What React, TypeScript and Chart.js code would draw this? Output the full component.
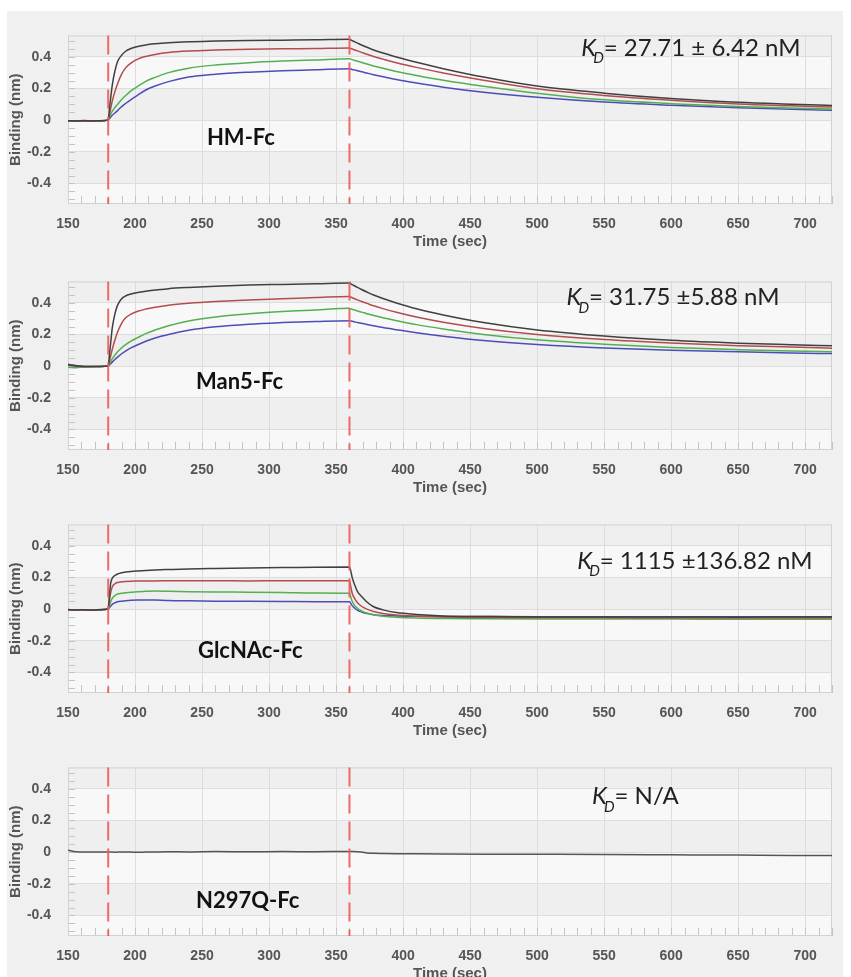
import { useEffect, useRef } from "react";
import { Chart, registerables } from "chart.js";

Chart.register(...registerables);

// Sampling times (s): baseline, association from 180 s, dissociation from 360 s
const TIME = [
  150, 156, 162, 168, 174, 180,
  181, 182, 183, 185, 187, 190, 193, 197, 202, 208, 215, 225, 240, 260, 285, 310, 335, 360,
  361, 362, 364, 366, 369, 373, 378, 385, 395, 410, 430, 460, 500, 550, 600, 650, 690, 720,
];

const X_TICKS = [150, 200, 250, 300, 350, 400, 450, 500, 550, 600, 650, 700];
const Y_TICKS = [-0.4, -0.2, 0, 0.2, 0.4];
const Y_TICK_LABELS = ["-0.4", "-0.2", "0", "0.2", "0.4"];
const PHASE_STARTS = [180, 360];

// HM-Fc sensorgrams (nm)
const HM_BLACK = [
  -0.004, -0.006, -0.003, -0.005, -0.004, 0.0,
  0.08, 0.15, 0.22, 0.31, 0.37, 0.41, 0.435, 0.452, 0.465, 0.475, 0.482, 0.489, 0.495, 0.499, 0.503, 0.505, 0.507, 0.51,
  0.506, 0.502, 0.494, 0.486, 0.474, 0.46, 0.443, 0.424, 0.398, 0.365, 0.325, 0.272, 0.215, 0.17, 0.136, 0.112, 0.1, 0.092,
];
const HM_RED = [
  -0.005, -0.004, -0.006, -0.004, -0.005, 0.0,
  0.04, 0.08, 0.12, 0.18, 0.23, 0.29, 0.33, 0.36, 0.385, 0.402, 0.415, 0.427, 0.436, 0.442, 0.447, 0.45, 0.452, 0.455,
  0.452, 0.449, 0.443, 0.437, 0.428, 0.416, 0.402, 0.385, 0.362, 0.333, 0.298, 0.252, 0.198, 0.156, 0.126, 0.102, 0.09, 0.082,
];
const HM_GREEN = [
  -0.005, -0.005, -0.004, -0.006, -0.004, 0.0,
  0.02, 0.04, 0.055, 0.08, 0.1, 0.13, 0.155, 0.185, 0.213, 0.245, 0.27, 0.3, 0.328, 0.348, 0.363, 0.373, 0.38, 0.387,
  0.385, 0.382, 0.377, 0.372, 0.364, 0.354, 0.342, 0.327, 0.307, 0.282, 0.252, 0.214, 0.17, 0.128, 0.104, 0.086, 0.076, 0.07,
];
const HM_BLUE = [
  -0.004, -0.005, -0.005, -0.004, -0.005, 0.0,
  0.01, 0.02, 0.03, 0.045, 0.06, 0.085, 0.105, 0.13, 0.158, 0.19, 0.215, 0.243, 0.272, 0.29, 0.303, 0.312, 0.318, 0.325,
  0.323, 0.32, 0.316, 0.312, 0.305, 0.297, 0.287, 0.274, 0.256, 0.234, 0.208, 0.176, 0.144, 0.114, 0.094, 0.078, 0.068, 0.062,
];

// Man5-Fc sensorgrams (nm)
const M5_BLACK = [
  0.008, 0.0, -0.003, -0.002, -0.003, 0.0,
  0.08, 0.16, 0.24, 0.33, 0.385, 0.425, 0.443, 0.455, 0.465, 0.473, 0.48, 0.489, 0.497, 0.505, 0.512, 0.516, 0.52, 0.525,
  0.52, 0.515, 0.506, 0.497, 0.484, 0.468, 0.449, 0.427, 0.399, 0.362, 0.323, 0.275, 0.228, 0.19, 0.163, 0.145, 0.135, 0.128,
];
const M5_RED = [
  0.008, 0.002, -0.003, -0.002, -0.003, 0.0,
  0.035, 0.07, 0.105, 0.165, 0.215, 0.27, 0.305, 0.328, 0.346, 0.36, 0.372, 0.385, 0.397, 0.408, 0.418, 0.426, 0.433, 0.44,
  0.436, 0.432, 0.425, 0.418, 0.408, 0.396, 0.381, 0.363, 0.34, 0.31, 0.277, 0.238, 0.2, 0.168, 0.146, 0.129, 0.12, 0.113,
];
const M5_GREEN = [
  -0.008, -0.01, -0.006, -0.004, -0.003, 0.0,
  0.015, 0.03, 0.045, 0.07, 0.09, 0.115, 0.135, 0.158, 0.18, 0.205, 0.228, 0.255, 0.285, 0.31, 0.33, 0.345, 0.355, 0.365,
  0.362, 0.359, 0.354, 0.348, 0.341, 0.331, 0.32, 0.305, 0.287, 0.262, 0.235, 0.2, 0.166, 0.138, 0.118, 0.104, 0.095, 0.09,
];
const M5_BLUE = [
  0.012, 0.004, -0.002, -0.003, -0.002, 0.0,
  0.008, 0.016, 0.025, 0.042, 0.057, 0.078, 0.095, 0.115, 0.135, 0.157, 0.178, 0.2, 0.226, 0.248, 0.265, 0.275, 0.282, 0.287,
  0.285, 0.283, 0.279, 0.275, 0.27, 0.263, 0.255, 0.244, 0.23, 0.21, 0.188, 0.161, 0.136, 0.114, 0.1, 0.09, 0.083, 0.079,
];

// GlcNAc-Fc sensorgrams (nm)
const GN_BLACK = [
  -0.003, -0.005, -0.004, -0.006, -0.004, 0.0,
  0.1, 0.17, 0.195, 0.212, 0.222, 0.23, 0.234, 0.238, 0.241, 0.244, 0.247, 0.25, 0.254, 0.257, 0.26, 0.262, 0.265, 0.266,
  0.24, 0.2, 0.15, 0.11, 0.08, 0.045, 0.015, -0.005, -0.022, -0.034, -0.043, -0.047, -0.05, -0.05, -0.05, -0.051, -0.05, -0.05,
];
const GN_RED = [
  -0.004, -0.004, -0.005, -0.005, -0.003, 0.0,
  0.06, 0.11, 0.14, 0.16, 0.168, 0.172, 0.174, 0.176, 0.177, 0.178, 0.178, 0.179, 0.179, 0.179, 0.178, 0.179, 0.179, 0.179,
  0.14, 0.1, 0.065, 0.04, 0.018, 0.0, -0.015, -0.028, -0.038, -0.045, -0.05, -0.053, -0.055, -0.055, -0.056, -0.056, -0.056, -0.056,
];
const GN_GREEN = [
  -0.005, -0.004, -0.006, -0.004, -0.005, 0.0,
  0.025, 0.05, 0.068, 0.085, 0.095, 0.1, 0.104, 0.106, 0.11, 0.112, 0.114, 0.112, 0.11, 0.108, 0.107, 0.105, 0.102, 0.1,
  0.075, 0.05, 0.022, 0.005, -0.012, -0.025, -0.036, -0.045, -0.052, -0.057, -0.06, -0.061, -0.062, -0.063, -0.063, -0.064, -0.064, -0.064,
];
const GN_BLUE = [
  -0.004, -0.005, -0.005, -0.006, -0.004, 0.0,
  0.01, 0.02, 0.03, 0.04, 0.046, 0.05, 0.053, 0.056, 0.058, 0.058, 0.057, 0.054, 0.052, 0.05, 0.049, 0.048, 0.047, 0.046,
  0.035, 0.022, 0.005, -0.008, -0.018, -0.028, -0.035, -0.04, -0.043, -0.045, -0.046, -0.047, -0.048, -0.048, -0.049, -0.049, -0.049, -0.049,
];

// N297Q-Fc sensorgram (nm)
const NQ_TRACE = [
  0.012, 0.002, 0.0, 0.0, 0.001, 0.0,
  0.0, 0.001, 0.0, -0.001, 0.0, 0.0, 0.001, 0.0, -0.001, 0.0, 0.001, 0.002, 0.001, 0.003, 0.002, 0.003, 0.002, 0.004,
  0.004, 0.004, 0.003, 0.002, 0.0, -0.005, -0.008, -0.009, -0.01, -0.011, -0.012, -0.013, -0.014, -0.015, -0.017, -0.019, -0.021, -0.022,
];

const SAMPLE_NAMES = ["HM-Fc", "Man5-Fc", "GlcNAc-Fc", "N297Q-Fc"];
const KD_TEXTS = ["27.71 \u00b1 6.42 nM", "31.75 \u00b15.88 nM", "1115 \u00b1136.82 nM", "N/A"];

const TRACE_COLORS = ["#404040", "#b34d4d", "#52b052", "#4d4db8"];
const SINGLE_COLOR = ["#555555"];

const PANELS = [
  { name: SAMPLE_NAMES[0], kd: KD_TEXTS[0], series: [HM_BLACK, HM_RED, HM_GREEN, HM_BLUE], colors: TRACE_COLORS, top: 10, nameAt: [279, -0.11], kdAt: [533, 0.455] },
  { name: SAMPLE_NAMES[1], kd: KD_TEXTS[1], series: [M5_BLACK, M5_RED, M5_GREEN, M5_BLUE], colors: TRACE_COLORS, top: 256, nameAt: [278, -0.1], kdAt: [522, 0.432] },
  { name: SAMPLE_NAMES[2], kd: KD_TEXTS[2], series: [GN_BLACK, GN_RED, GN_GREEN, GN_BLUE], colors: TRACE_COLORS, top: 499, nameAt: [286, -0.265], kdAt: [530, 0.3] },
  { name: SAMPLE_NAMES[3], kd: KD_TEXTS[3], series: [NQ_TRACE], colors: SINGLE_COLOR, top: 742, nameAt: [284, -0.31], kdAt: [541, 0.35] },
];

const CANVAS_W = 851;
const CANVAS_H = 243;
const PLOT_TOP_PAD = 20;
const PLOT_H = 174;
const AXIS_W = 68;
const RIGHT_PAD = 19;

const BAND_DARK = "#efefef";
const BAND_LIGHT = "#f8f8f8";
const GRID = "#dddddd";
const AXIS_TEXT = "#555555";
const TICK_FONT = { family: "'Liberation Sans', Arial, sans-serif", size: 14, weight: "bold" as const };
const TITLE_FONT = { family: "'Liberation Sans', Arial, sans-serif", size: 15, weight: "bold" as const };
const LABEL_FAMILY = "Lato, 'Open Sans', sans-serif";

type PanelDef = (typeof PANELS)[number];

function makeDecor(panel: PanelDef) {
  return {
    id: "panelDecor",
    beforeDraw(chart: any) {
      const { ctx, chartArea: a, scales } = chart;
      const y = scales.y;
      const edges = [y.max, ...[...Y_TICKS].reverse(), y.min];
      ctx.save();
      for (let i = 0; i < edges.length - 1; i++) {
        const t = y.getPixelForValue(edges[i]);
        const b = y.getPixelForValue(edges[i + 1]);
        ctx.fillStyle = i % 2 === 0 ? BAND_DARK : BAND_LIGHT;
        ctx.fillRect(a.left, t, a.right - a.left, b - t);
      }
      ctx.restore();
    },
    beforeDatasetsDraw(chart: any) {
      const { ctx, chartArea: a, scales } = chart;
      const { x, y } = scales;
      ctx.save();
      ctx.strokeStyle = "#c4c4c4";
      ctx.lineWidth = 1;
      ctx.beginPath();
      // minor ticks every 10 s along the time axis
      for (let t = x.min; t <= x.max; t += 10) {
        const px = Math.round(x.getPixelForValue(t)) + 0.5;
        ctx.moveTo(px, a.bottom);
        ctx.lineTo(px, a.bottom - 8);
      }
      // minor ticks every 0.05 nm along the binding axis
      for (let k = -10; k <= 10; k++) {
        const v = k * 0.05;
        if (v < y.min || v > y.max) continue;
        const py = Math.round(y.getPixelForValue(v)) + 0.5;
        ctx.moveTo(a.left, py);
        ctx.lineTo(a.left + 7, py);
      }
      ctx.stroke();
      ctx.strokeStyle = "#d2d2d2";
      ctx.strokeRect(a.left + 0.5, a.top + 0.5, a.right - a.left - 1, a.bottom - a.top - 1);
      ctx.restore();
    },
    afterDatasetsDraw(chart: any) {
      const { ctx, chartArea: a, scales } = chart;
      const { x, y } = scales;
      ctx.save();
      // phase boundaries
      ctx.strokeStyle = "rgba(240, 90, 90, 0.9)";
      ctx.lineWidth = 2;
      ctx.setLineDash([19, 8]);
      for (const t of PHASE_STARTS) {
        const px = x.getPixelForValue(t);
        ctx.beginPath();
        ctx.moveTo(px, a.top);
        ctx.lineTo(px, a.bottom);
        ctx.stroke();
      }
      ctx.setLineDash([]);

      // sample name
      ctx.fillStyle = "#111111";
      ctx.font = `bold 22px ${LABEL_FAMILY}`;
      ctx.textAlign = "center";
      ctx.textBaseline = "middle";
      ctx.fillText(panel.name, x.getPixelForValue(panel.nameAt[0]), y.getPixelForValue(panel.nameAt[1]));

      // dissociation constant
      const kx = x.getPixelForValue(panel.kdAt[0]);
      const ky = y.getPixelForValue(panel.kdAt[1]);
      ctx.textAlign = "left";
      ctx.fillStyle = "#222222";
      ctx.font = `italic 24px ${LABEL_FAMILY}`;
      ctx.fillText("K", kx, ky);
      const wK = ctx.measureText("K").width;
      ctx.font = `italic 15px ${LABEL_FAMILY}`;
      ctx.fillText("D", kx + wK - 3, ky + 10);
      const wD = ctx.measureText("D").width;
      ctx.font = `24px ${LABEL_FAMILY}`;
      ctx.fillText("= " + panel.kd, kx + wK - 3 + wD, ky);
      ctx.restore();
    },
  };
}

function Panel({ panel }: { panel: PanelDef }) {
  const ref = useRef<HTMLCanvasElement | null>(null);

  useEffect(() => {
    if (!ref.current) return;
    const datasets = panel.series.map((values, i) => ({
      data: TIME.map((t, j) => ({ x: t, y: values[j] })),
      borderColor: panel.colors[i],
      backgroundColor: panel.colors[i],
      borderWidth: 1.5,
      pointRadius: 0,
      cubicInterpolationMode: "monotone" as const,
      fill: false,
    }));

    const chart = new Chart(ref.current, {
      type: "line",
      data: { datasets },
      plugins: [makeDecor(panel)],
      options: {
        animation: false,
        responsive: false,
        maintainAspectRatio: false,
        devicePixelRatio: 1,
        layout: { padding: { top: PLOT_TOP_PAD, right: RIGHT_PAD, left: 0, bottom: 0 } },
        plugins: { legend: { display: false }, tooltip: { enabled: false } },
        scales: {
          x: {
            type: "linear",
            min: 150,
            max: 720,
            afterBuildTicks: (s: any) => {
              s.ticks = X_TICKS.map((v) => ({ value: v }));
            },
            afterFit: (s: any) => {
              s.height = CANVAS_H - PLOT_TOP_PAD - PLOT_H;
            },
            grid: { color: GRID, lineWidth: 1, drawTicks: false },
            border: { display: false },
            ticks: {
              color: AXIS_TEXT,
              font: TICK_FONT,
              padding: 12,
              maxRotation: 0,
              autoSkip: false,
              callback: (v: any) => String(v),
            },
            title: {
              display: true,
              text: "Time (sec)",
              color: AXIS_TEXT,
              font: TITLE_FONT,
              padding: { top: 0, bottom: 2 },
            },
          },
          y: {
            type: "linear",
            min: -0.53,
            max: 0.535,
            afterBuildTicks: (s: any) => {
              s.ticks = Y_TICKS.map((v) => ({ value: v }));
            },
            afterFit: (s: any) => {
              s.width = AXIS_W;
            },
            grid: { color: GRID, lineWidth: 1, drawTicks: false },
            border: { display: false },
            ticks: {
              color: AXIS_TEXT,
              font: TICK_FONT,
              padding: 17,
              autoSkip: false,
              callback: (v: any) => {
                const idx = Y_TICKS.findIndex((t) => Math.abs(t - v) < 1e-9);
                return idx >= 0 ? Y_TICK_LABELS[idx] : "";
              },
            },
            title: {
              display: true,
              text: "Binding (nm)",
              color: AXIS_TEXT,
              font: TITLE_FONT,
              padding: { top: 7, bottom: 0 },
            },
          },
        },
      },
    } as any);

    return () => chart.destroy();
  }, [panel]);

  return (
    <canvas
      ref={ref}
      width={CANVAS_W}
      height={CANVAS_H}
      style={{ position: "absolute", left: 0, top: panel.top, width: CANVAS_W, height: CANVAS_H }}
    />
  );
}

export default function App() {
  return (
    <div
      style={{
        position: "absolute",
        left: 0,
        top: 0,
        width: 851,
        height: 977,
        overflow: "hidden",
        background: "#ffffff",
      }}
    >
      <div style={{ position: "absolute", left: 7, top: 11, width: 836, height: 966, background: "#f0f0f0" }} />
      {PANELS.map((p) => (
        <Panel key={p.name} panel={p} />
      ))}
    </div>
  );
}
